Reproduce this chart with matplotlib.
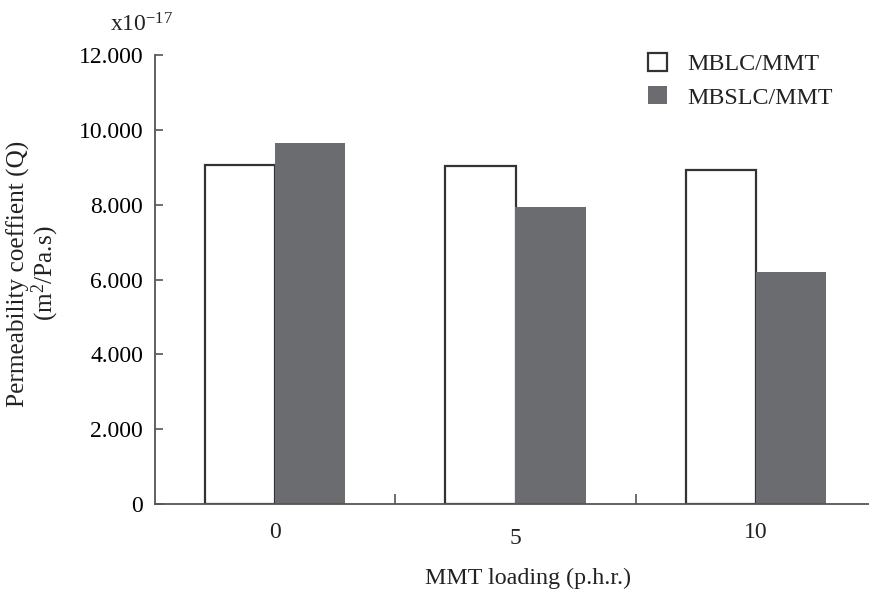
import matplotlib
matplotlib.use("Agg")
import matplotlib.pyplot as plt
import numpy as np
from matplotlib.transforms import blended_transform_factory

plt.rcParams['font.family'] = ['Liberation Serif', 'DejaVu Serif']
plt.rcParams['mathtext.fontset'] = 'custom'
plt.rcParams['mathtext.rm'] = 'Liberation Serif'
plt.rcParams['mathtext.it'] = 'Liberation Serif:italic'

categories = ['0', '5', '10']
mblc = [9.05, 9.04, 8.92]
mbslc = [9.64, 7.93, 6.19]
series_names = ['MBLC/MMT', 'MBSLC/MMT']
yticks = [0, 2, 4, 6, 8, 10, 12]
ytick_labels = ['0', '2.000', '4.000', '6.000', '8.000', '10.000', '12.000']
label_drop = [28, 34, 29]  # px below axis of the staggered category labels

W, H = 869, 590
fig = plt.figure(figsize=(W / 100, H / 100), dpi=100)
left, right, bottom, top = 155, 876, 504, 55
ax = fig.add_axes([left / W, (H - bottom) / H, (right - left) / W, (bottom - top) / H])

fs = 17
x = np.arange(len(categories))
bw = 70 / 240
edge = '#333333'
gray = '#6b6c70'
b1 = ax.bar(x - bw / 2, mblc, bw, color='white', edgecolor=edge, linewidth=1.6, label=series_names[0])
b2 = ax.bar(x + bw / 2, mbslc, bw, color=gray, edgecolor='none', label=series_names[1])

ax.set_xlim(-0.5, 2.5)
ax.set_ylim(0, 12)
ax.set_yticks(yticks)
ax.set_yticklabels(ytick_labels, fontsize=fs)
ax.tick_params(axis='y', direction='in', length=6, width=1.2, color='#555555', pad=8.5)
ax.set_xticks([0.5, 1.5])
ax.set_xticklabels([])
ax.tick_params(axis='x', direction='in', length=7, width=1.2, color='#555555')

for s in ['top', 'right']:
    ax.spines[s].set_visible(False)
for s in ['left', 'bottom']:
    ax.spines[s].set_color('#555555')
    ax.spines[s].set_linewidth(1.3)

trans = blended_transform_factory(ax.transData, ax.transAxes)
ax_h = bottom - top
for xi, lab, d in zip(x, categories, label_drop):
    ax.text(xi, -d / ax_h, lab, transform=trans, ha='center', va='center', fontsize=fs, color='#222222')

fig.text(528 / W, 1 - 578 / H, 'MMT loading (p.h.r.)', ha='center', va='center', fontsize=17.3, color='#222222')

ax.set_ylabel('Permeability coeffient (Q)\n(m$^2$/Pa.s)', fontsize=18.2, color='#222222', linespacing=1.0)
ax.yaxis.set_label_coords((61 - left) / (right - left), (bottom - 273.5) / ax_h)

fig.text(173 / W, 1 - 32 / H, r'x10$^{-17}$', ha='right', va='baseline', fontsize=fs, color='#222222')

leg = ax.legend(handles=[b1, b2], loc='upper left', bbox_to_anchor=(648 / W, 1 - 53 / H),
                bbox_transform=fig.transFigure, frameon=False, fontsize=17.3,
                handlelength=0.8, handleheight=0.78, handletextpad=0.85,
                labelspacing=0.45, borderpad=0, borderaxespad=0)
for t in leg.get_texts():
    t.set_color('#222222')

fig.savefig('out.png', dpi=100)
